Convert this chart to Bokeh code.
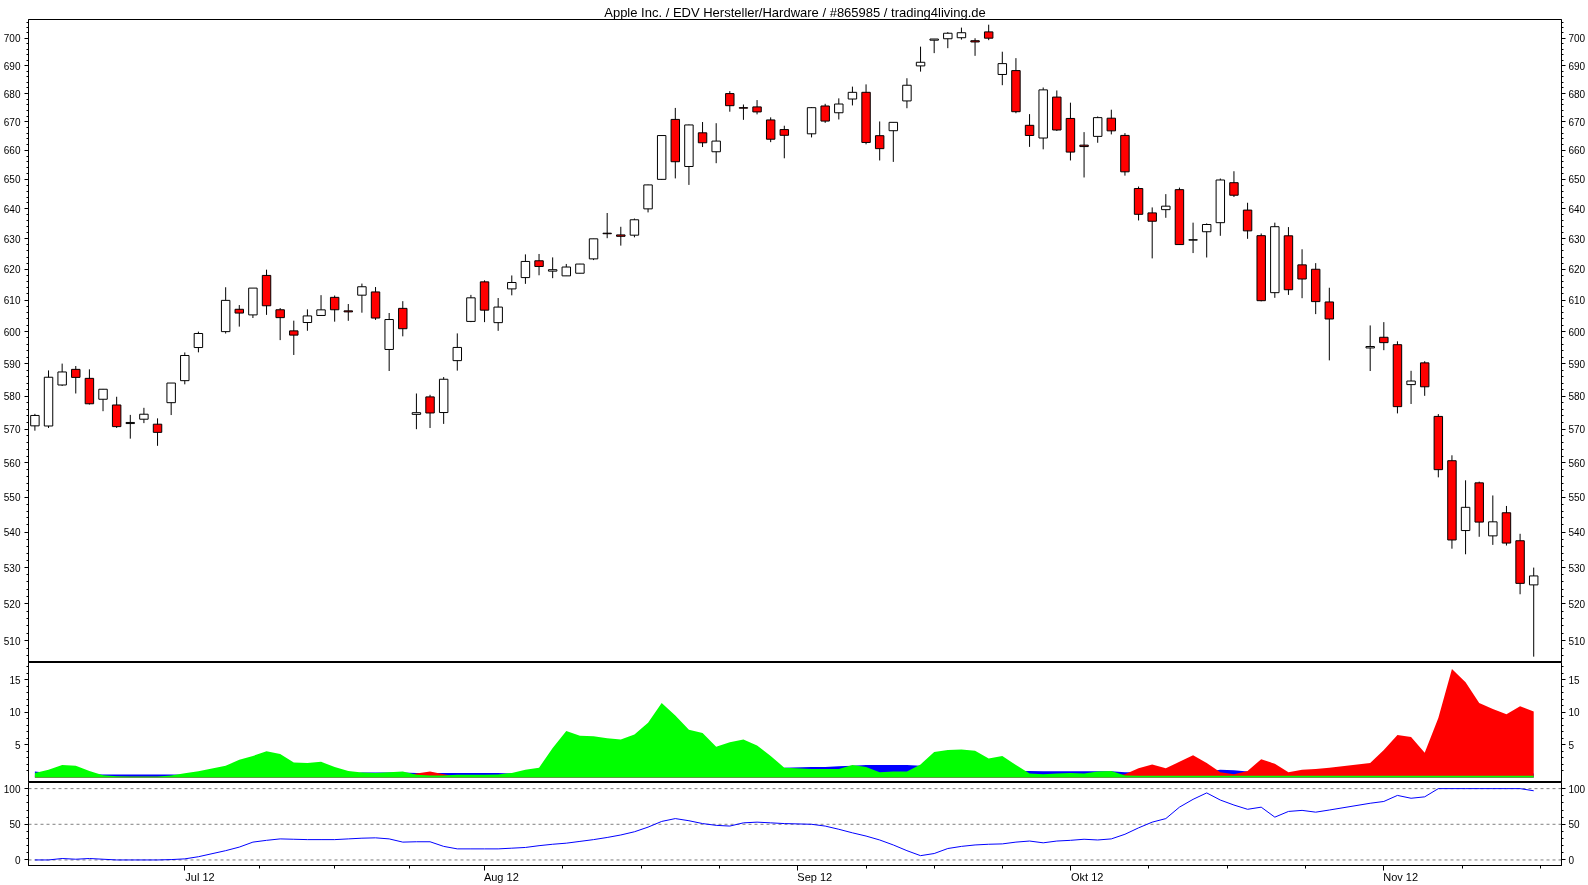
import numpy as np
from bokeh.plotting import figure
from bokeh.layouts import column
from bokeh.models import (ColumnDataSource, Range1d, FixedTicker, LinearAxis, LogAxis,
                          Span, BasicTickFormatter)
from bokeh.embed import file_html
from bokeh.resources import INLINE

TITLE = "Apple Inc. / EDV Hersteller/Hardware / #865985 / trading4living.de"
FONT = "Liberation Sans"

# ---------------- data ----------------
dates = [
    "2012-06-15", "2012-06-18", "2012-06-19", "2012-06-20", "2012-06-21", "2012-06-22",
    "2012-06-25", "2012-06-26", "2012-06-27", "2012-06-28", "2012-06-29",
    "2012-07-02", "2012-07-03", "2012-07-05", "2012-07-06", "2012-07-09", "2012-07-10",
    "2012-07-11", "2012-07-12", "2012-07-13", "2012-07-16", "2012-07-17", "2012-07-18",
    "2012-07-19", "2012-07-20", "2012-07-23", "2012-07-24", "2012-07-25", "2012-07-26",
    "2012-07-27", "2012-07-30", "2012-07-31",
    "2012-08-01", "2012-08-02", "2012-08-03", "2012-08-06", "2012-08-07", "2012-08-08",
    "2012-08-09", "2012-08-10", "2012-08-13", "2012-08-14", "2012-08-15", "2012-08-16",
    "2012-08-17", "2012-08-20", "2012-08-21", "2012-08-22", "2012-08-23", "2012-08-24",
    "2012-08-27", "2012-08-28", "2012-08-29", "2012-08-30", "2012-08-31",
    "2012-09-04", "2012-09-05", "2012-09-06", "2012-09-07", "2012-09-10", "2012-09-11",
    "2012-09-12", "2012-09-13", "2012-09-14", "2012-09-17", "2012-09-18", "2012-09-19",
    "2012-09-20", "2012-09-21", "2012-09-24", "2012-09-25", "2012-09-26", "2012-09-27",
    "2012-09-28",
    "2012-10-01", "2012-10-02", "2012-10-03", "2012-10-04", "2012-10-05", "2012-10-08",
    "2012-10-09", "2012-10-10", "2012-10-11", "2012-10-12", "2012-10-15", "2012-10-16",
    "2012-10-17", "2012-10-18", "2012-10-19", "2012-10-22", "2012-10-23", "2012-10-24",
    "2012-10-25", "2012-10-26", "2012-10-31",
    "2012-11-01", "2012-11-02", "2012-11-05", "2012-11-06", "2012-11-07", "2012-11-08",
    "2012-11-09", "2012-11-12", "2012-11-13", "2012-11-14", "2012-11-15", "2012-11-16",
]

opens = [
    571.00, 570.96, 583.40, 588.21, 585.44, 579.04, 577.30, 571.69, 573.00, 571.50, 578.00,
    584.73, 595.00, 600.00, 607.09, 605.30, 617.99, 606.94, 600.24, 602.88, 605.12, 610.91,
    606.59, 611.61, 612.65, 594.40, 607.38, 574.46, 579.76, 575.01, 590.92, 603.23,
    615.91, 602.84, 613.63, 617.29, 622.77, 619.39, 617.85, 618.71, 623.39, 631.87, 631.30,
    631.21, 640.00, 650.01, 670.82, 654.42, 666.11, 659.51, 679.99, 674.98, 675.25, 670.64,
    667.25,
    665.76, 675.57, 673.17, 678.05, 680.45, 665.11, 666.85, 677.37, 689.96, 699.35, 699.88,
    700.26, 699.16, 702.41, 686.86, 688.26, 668.74, 664.29, 678.74,
    671.16, 661.81, 664.86, 671.25, 665.20, 646.88, 638.65, 639.74, 646.50, 629.56, 632.35,
    635.37, 648.87, 639.59, 631.05, 612.42, 631.00, 621.44, 620.00, 609.43, 594.88,
    598.22, 595.89, 583.52, 590.23, 573.84, 560.63, 540.42, 554.15, 538.91, 545.50, 537.53,
    525.20,
]
highs = [
    574.62, 587.89, 590.00, 589.25, 588.22, 582.19, 579.80, 574.30, 576.44, 573.25, 584.00,
    593.47, 600.00, 614.16, 608.44, 613.90, 619.87, 607.49, 603.47, 607.07, 611.62, 611.50,
    608.77, 615.35, 614.23, 605.90, 609.68, 580.80, 580.40, 585.83, 599.44, 611.70,
    616.40, 610.69, 617.98, 624.87, 625.00, 623.88, 621.73, 621.76, 630.00, 638.61, 634.00,
    636.76, 648.19, 665.15, 674.88, 669.00, 669.90, 669.48, 680.87, 676.10, 677.67, 671.55,
    668.60,
    675.14, 676.35, 678.29, 682.48, 683.29, 670.10, 669.90, 685.50, 696.98, 699.80, 702.33,
    703.99, 700.06, 705.07, 695.12, 692.78, 672.69, 682.17, 681.11,
    676.75, 666.35, 671.86, 674.25, 666.00, 647.56, 640.49, 644.98, 647.20, 635.38, 635.13,
    650.30, 652.79, 642.06, 631.77, 635.38, 633.90, 626.55, 622.00, 614.00, 601.96,
    603.00, 596.95, 587.77, 590.74, 574.54, 562.23, 554.88, 554.50, 550.48, 547.45, 539.50,
    530.00,
]
lows = [
    569.55, 570.37, 583.10, 580.80, 577.44, 575.42, 570.37, 567.17, 571.82, 565.04, 574.25,
    583.60, 593.50, 599.40, 601.58, 604.31, 605.31, 597.33, 592.68, 600.27, 605.02, 603.15,
    603.42, 606.00, 603.70, 587.71, 598.51, 570.00, 570.36, 571.59, 587.82, 603.00,
    603.00, 600.25, 611.56, 615.26, 618.04, 617.10, 617.80, 618.70, 623.00, 630.21, 627.75,
    630.50, 638.81, 649.90, 650.33, 648.11, 661.15, 655.55, 673.54, 670.67, 672.60, 662.85,
    657.25,
    664.50, 669.60, 670.80, 675.77, 662.10, 656.50, 656.00, 674.77, 687.89, 694.61, 696.42,
    699.57, 693.62, 699.36, 683.00, 673.00, 661.20, 660.35, 666.75,
    656.50, 650.65, 662.63, 665.55, 651.28, 636.11, 623.55, 637.00, 628.10, 625.30, 623.85,
    631.00, 644.00, 630.00, 609.62, 610.76, 611.70, 610.64, 605.55, 591.00, 587.70,
    594.17, 574.75, 577.60, 580.09, 555.75, 535.29, 533.72, 538.65, 536.36, 536.18, 522.62,
    505.75,
]
closes = [
    574.13, 585.78, 587.41, 585.74, 577.67, 582.10, 570.77, 572.02, 574.50, 569.05, 584.00,
    592.52, 599.41, 609.94, 605.88, 613.89, 608.21, 604.43, 598.90, 604.97, 606.91, 606.94,
    606.26, 614.32, 604.30, 603.83, 600.92, 574.97, 574.88, 585.16, 595.03, 610.76,
    606.81, 607.79, 615.70, 622.55, 620.91, 619.86, 620.73, 621.70, 630.00, 631.69, 630.83,
    636.34, 648.11, 665.15, 656.06, 668.87, 662.63, 663.22, 675.68, 674.80, 673.47, 663.87,
    665.24,
    674.97, 670.23, 676.27, 680.44, 662.74, 660.59, 669.79, 682.98, 691.28, 699.78, 701.91,
    702.10, 698.70, 700.09, 690.79, 673.54, 665.18, 681.32, 667.10,
    659.39, 661.31, 671.45, 666.80, 652.59, 638.17, 635.85, 640.91, 628.10, 629.71, 634.76,
    649.79, 644.61, 632.64, 609.84, 634.03, 613.36, 616.83, 609.54, 604.00, 595.32,
    596.54, 576.80, 584.62, 582.85, 558.00, 537.75, 547.06, 542.83, 542.90, 536.88, 525.62,
    527.68,
]

# middle panel: three trend-strength areas
green_vals = [
    0.7, 1.2, 1.9, 1.8, 1.0, 0.35, 0.2, 0.15, 0.15, 0.15, 0.3,
    0.65, 0.95, 1.8, 2.7, 3.3, 4.0, 3.6, 2.3, 2.2, 2.4, 1.6, 1.0, 0.75, 0.7, 0.8, 0.9,
    0.4, 0.3, 0.3, 0.4, 0.4,
    0.4, 0.45, 0.7, 1.2, 1.5, 4.5, 7.1, 6.4, 6.3, 6.0, 5.8, 6.6, 8.4, 11.4, 9.5, 7.3,
    6.8, 4.7, 5.4, 5.8, 4.9, 3.3, 1.5,
    1.3, 1.3, 1.3, 1.9, 1.6, 0.8, 0.9, 0.9, 2.0, 3.9, 4.2, 4.3, 4.1, 2.9, 3.3, 1.9, 0.6,
    0.5, 0.6,
    0.7, 0.6, 0.9, 1.0, 0.3, 0.25, 0.25, 0.25, 0.25, 0.25, 0.25, 0.25, 0.25, 0.25, 0.25,
    0.25, 0.25, 0.25, 0.25, 0.25, 0.25,
    0.25, 0.25, 0.25, 0.25, 0.25, 0.25, 0.25, 0.25, 0.25, 0.25, 0.25, 0.25,
]
red_vals = [
    0.3, 0.1, 0.1, 0.1, 0.1, 0.1, 0.1, 0.1, 0.1, 0.1, 0.1,
    0.1, 0.1, 0.1, 0.1, 0.1, 0.1, 0.1, 0.1, 0.1, 0.1, 0.1, 0.1, 0.1, 0.1, 0.1, 0.1,
    0.6, 0.9, 0.5, 0.1, 0.1,
    0.1, 0.1, 0.1, 0.1, 0.1, 0.1, 0.1, 0.1, 0.1, 0.1, 0.1, 0.1, 0.1, 0.1, 0.1, 0.1,
    0.1, 0.1, 0.1, 0.1, 0.1, 0.1, 0.1,
    0.1, 0.1, 0.1, 0.1, 0.1, 0.1, 0.1, 0.1, 0.1, 0.1, 0.1, 0.1, 0.1, 0.1, 0.1, 0.1, 0.1,
    0.1, 0.1,
    0.1, 0.1, 0.1, 0.2, 0.5, 1.4, 2.0, 1.4, 2.4, 3.4, 2.2, 0.8, 0.5, 1.0, 2.8,
    2.1, 0.8, 1.2, 1.3, 1.5, 2.2,
    4.2, 6.5, 6.2, 3.8, 9.1, 16.6, 14.6, 11.4, 10.5, 9.7, 10.9, 10.1,
]
blue_vals = [
    0.9, 0.7, 0.6, 0.5, 0.5, 0.45, 0.45, 0.45, 0.45, 0.45, 0.45,
    0.4, 0.35, 0.3, 0.3, 0.3, 0.3, 0.3, 0.3, 0.3, 0.3, 0.4, 0.5, 0.75, 0.75, 0.75, 0.75,
    0.7, 0.7, 0.7, 0.7, 0.7,
    0.7, 0.7, 0.6, 0.5, 0.4, 0.4, 0.4, 0.4, 0.4, 0.4, 0.4, 0.4, 0.4, 0.4, 0.4, 0.4,
    0.4, 0.4, 0.4, 0.5, 0.6, 0.9, 1.5,
    1.6, 1.6, 1.7, 1.8, 1.9, 1.9, 1.9, 1.9, 1.8, 1.5, 1.3, 1.2, 1.1, 1.0, 1.0, 1.0, 1.0,
    0.95, 0.95,
    0.95, 0.95, 0.95, 0.95, 0.8, 0.8, 0.8, 0.8, 0.8, 0.8, 0.9, 1.2, 1.1, 0.9, 0.8,
    0.7, 0.7, 0.7, 0.7, 0.7, 0.6,
    0.6, 0.6, 0.6, 0.6, 0.6, 0.6, 0.6, 0.6, 0.6, 0.6, 0.6, 0.6,
]

# bottom panel: 0..100 oscillator
osc_vals = [
    0, 0, 2, 1, 2, 1, 0, 0, 0, 0, 0.5,
    1.5, 4.5, 13, 18, 25, 27.5, 29.5, 29, 28.5, 28.5, 28.5, 29.5, 30.5, 31, 29.5, 25,
    25.5, 25.5, 19, 15.5, 15.5,
    15.5, 15.5, 16.5, 17.5, 20, 22, 23.5, 26, 28.5, 31.5, 35, 39.5, 46, 54, 58, 55,
    51, 48.5, 47.5, 52, 53, 52, 51,
    50, 47.5, 43, 38, 33.5, 28, 21, 13, 6, 9, 16, 19, 21, 22, 22.5, 25, 26.5,
    24, 26.5,
    27.5, 29, 28, 29.5, 36, 45, 53, 58, 74, 85, 94, 84, 77, 71, 74,
    60, 68, 69.5, 67, 70, 79.5,
    82, 90.5, 86.5, 88.5, 100, 100, 100, 100, 100, 100, 100, 97,
]
osc_levels = [0, 50, 100]

month_tick_dates = ["2012-07-02", "2012-08-01", "2012-09-03", "2012-10-01", "2012-11-01"]
month_labels = ["Jul 12", "Aug 12", "Sep 12", "Okt 12", "Nov 12"]

price_ticks = list(range(510, 701, 10))
price_minor = [v for v in range(506, 707, 2) if v % 10 != 0]
mid_ticks = [5, 10, 15]
mid_minor = [v for v in range(1, 18) if v % 5 != 0]
osc_ticks = [0, 50, 100]
osc_minor = [10, 20, 30, 40, 60, 70, 80, 90]

# ---------------- x positions (weekday index) ----------------
START = "2012-06-15"
xs = np.busday_count(START, dates).astype(float)
major_x = [float(v) for v in np.busday_count(START, month_tick_dates)]
minor_x = []
for a, b in zip(major_x[:-1], major_x[1:]):
    minor_x += [a + (b - a) * k / 4 for k in (1, 2, 3)]
step = (major_x[-1] - major_x[-2]) / 4
minor_x += [major_x[-1] + step * k for k in (1, 2)]

o = np.array(opens); c = np.array(closes)
src = ColumnDataSource(dict(
    x=xs, high=highs, low=lows,
    top=np.maximum(o, c), bottom=np.minimum(o, c),
    fill=["#ffffff" if cc >= oo else "#ff0000" for oo, cc in zip(opens, closes)],
))

x_range = Range1d(-0.47, 112.04)
BL, BR = 26, 25
W = 1588


def style_y(ax, ticks, minor, standoff):
    ax.ticker = FixedTicker(ticks=ticks, minor_ticks=minor)
    ax.major_tick_in = 0
    ax.major_tick_out = 4
    ax.minor_tick_in = 0
    ax.minor_tick_out = 2
    ax.axis_line_color = "black"
    ax.major_tick_line_color = "black"
    ax.minor_tick_line_color = "black"
    ax.major_label_text_font = FONT
    ax.major_label_text_font_size = "10px"
    ax.major_label_text_color = "black"
    ax.major_label_standoff = standoff


def base(p):
    p.xgrid.visible = False
    p.ygrid.visible = False
    p.outline_line_color = "black"
    p.outline_line_width = 1
    p.background_fill_color = "white"
    p.border_fill_color = "white"


# ---------------- price panel ----------------
p1 = figure(width=W, height=662, x_range=x_range, y_range=Range1d(504.2, 707.0),
            y_axis_type="log", x_axis_location=None, y_axis_location="left",
            toolbar_location=None, output_backend="svg",
            min_border_left=BL, min_border_right=BR, min_border_top=19, min_border_bottom=0,
            title=TITLE)
base(p1)
p1.title.align = "center"
p1.title.text_font = FONT
p1.title.text_font_size = "13px"
p1.title.text_font_style = "normal"
p1.title.text_color = "black"
p1.title.standoff = 0
style_y(p1.yaxis[0], price_ticks, price_minor, 4)
p1.yaxis[0].formatter = BasicTickFormatter(use_scientific=False)
rax1 = LogAxis()
style_y(rax1, price_ticks, price_minor, 3)
rax1.formatter = BasicTickFormatter(use_scientific=False)
p1.add_layout(rax1, "right")

p1.segment(x0="x", y0="low", x1="x", y1="high", source=src, line_color="black", line_width=1)
p1.vbar(x="x", top="top", bottom="bottom", width=0.62, source=src,
        fill_color="fill", line_color="black", line_width=1)

# ---------------- trend-strength panel ----------------
p2 = figure(width=W, height=120, x_range=x_range, y_range=Range1d(-0.77, 17.61),
            x_axis_location=None, y_axis_location="left",
            toolbar_location=None, output_backend="svg",
            min_border_left=BL, min_border_right=BR, min_border_top=0, min_border_bottom=0)
base(p2)
style_y(p2.yaxis[0], mid_ticks, mid_minor, 4)
rax2 = LinearAxis()
style_y(rax2, mid_ticks, mid_minor, 3)
p2.add_layout(rax2, "right")
p2.varea(x=xs, y1=0, y2=blue_vals, fill_color="#0000ff")
p2.varea(x=xs, y1=0, y2=red_vals, fill_color="#ff0000")
p2.varea(x=xs, y1=0, y2=green_vals, fill_color="#00ff00")

# ---------------- oscillator panel ----------------
p3 = figure(width=W, height=103, x_range=x_range, y_range=Range1d(-7.8, 108.6),
            x_axis_location="below", y_axis_location="left",
            toolbar_location=None, output_backend="svg",
            min_border_left=BL, min_border_right=BR, min_border_top=0, min_border_bottom=18)
base(p3)
style_y(p3.yaxis[0], osc_ticks, osc_minor, 4)
rax3 = LinearAxis()
style_y(rax3, osc_ticks, osc_minor, 3)
p3.add_layout(rax3, "right")
for lv in osc_levels:
    p3.add_layout(Span(location=lv, dimension="width", line_color="#808080",
                       line_dash="3 3", line_width=1, level="underlay"))
p3.line(xs, osc_vals, line_color="#0000ff", line_width=1)

# Month labels start at their tick: the axis centres a label on its tick, so each
# label is led by no-break spaces about as wide as the label itself.
_w = {"J": 500, "u": 556, "l": 222, " ": 278, "1": 556, "2": 556, "A": 667, "g": 556,
      "S": 667, "e": 556, "p": 556, "O": 778, "k": 500, "t": 278, "N": 722, "o": 556,
      "v": 500}


def lead(lab):
    n = int(round(sum(_w.get(ch, 556) for ch in lab) / 278.0))
    return "\u00a0" * n + lab


xa = p3.xaxis[0]
xa.ticker = FixedTicker(ticks=major_x, minor_ticks=minor_x)
xa.major_label_overrides = {t: lead(lab) for t, lab in zip(major_x, month_labels)}
xa.major_tick_in = 0
xa.major_tick_out = 5
xa.minor_tick_in = 0
xa.minor_tick_out = 3
xa.axis_line_color = "black"
xa.major_label_text_font = FONT
xa.major_label_text_font_size = "11px"
xa.major_label_text_color = "black"
xa.major_label_standoff = 0

layout = column(p1, p2, p3, spacing=0,
                styles={"position": "fixed", "left": "0px", "top": "0px"})

open("out.html", "w").write(file_html(layout, INLINE))
